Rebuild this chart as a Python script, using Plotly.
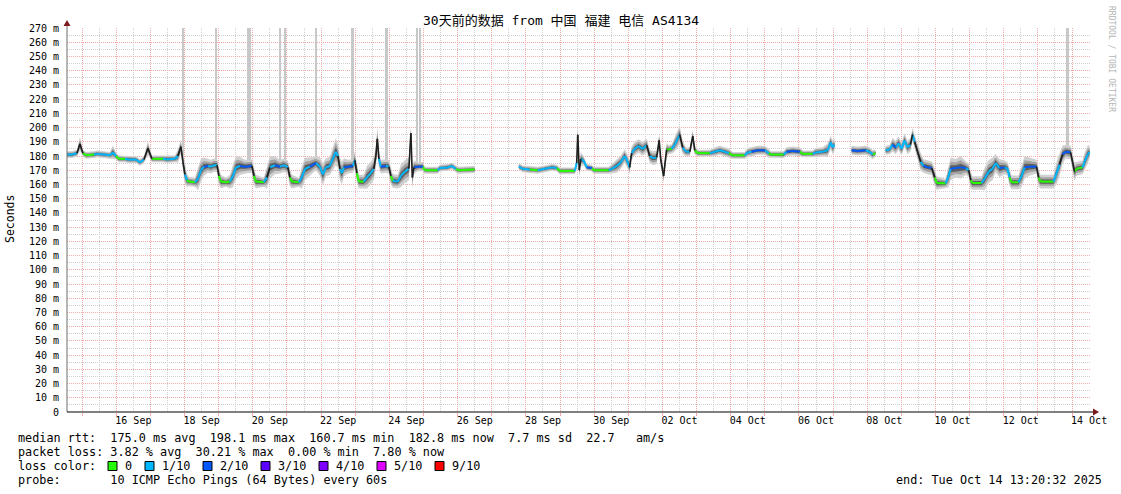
import plotly.graph_objects as go
import pandas as pd

# ---------------- data ----------------
T_START = pd.Timestamp("2025-09-14 13:20:32")
T_END = pd.Timestamp("2025-10-14 13:20:32")

# hours since T_START; None in median_ms marks a gap in the data
hours = [
    0.0, 3.5, 7.0, 9.1, 11.2, 13.4, 19.0, 21.1, 26.0, 30.2, 32.3, 34.4, 36.5, 40.8, 42.9, 48.5,
    51.3, 54.1, 56.9, 59.7, 64.0, 67.5, 70.3, 75.9, 78.0, 80.1, 81.5, 82.9, 84.3, 85.7, 90.0,
    92.1, 94.2, 96.3, 99.1, 101.2, 103.3, 105.5, 106.8, 108.2, 111.7, 114.6, 116.7, 118.8,
    121.6, 125.1, 130.0, 131.4, 132.8, 138.4, 140.6, 142.7, 146.2, 149.7, 152.5, 155.3, 156.7,
    158.1, 163.1, 165.1, 167.3, 170.8, 175.0, 177.8, 179.9, 182.0, 184.8, 186.9, 189.0, 190.5,
    191.9, 193.3, 194.7, 197.5, 201.0, 202.4, 203.8, 205.2, 208.7, 210.8, 213.6, 215.7, 217.2,
    218.2, 219.3, 220.7, 224.2, 226.3, 227.7, 229.1, 232.6, 234.7, 237.5, 240.4, 241.8, 242.8,
    243.9, 246.7, 250.2, 251.6, 260.7, 262.1, 267.8, 270.6, 273.4, 274.8, 286.7,
    300.0,
    317.7, 320.5, 325.4, 331.0, 335.9, 340.9, 344.4, 346.5, 357.0, 358.4, 359.1, 360.2, 361.3,
    363.4, 365.5, 369.0, 370.4, 380.9, 383.0, 386.6, 389.3, 392.1, 394.2, 395.6, 397.0, 399.1,
    401.9, 404.7, 407.6, 409.7, 411.8, 414.6, 416.4, 417.4, 419.5, 421.6, 423.0, 425.2, 427.3,
    429.4, 430.8, 432.9, 435.1, 437.9, 440.0, 441.4, 443.5, 452.0, 455.5, 459.0, 462.5, 465.3,
    468.1, 476.5, 478.6, 481.4, 485.6, 490.6, 493.4, 494.8, 503.9, 506.0, 510.3, 515.2, 517.3,
    524.3, 526.4, 531.3, 534.8, 537.0, 538.4, 539.6,
    545.0,
    551.7, 555.9, 561.5, 564.3, 566.4, 568.5,
    572.0,
    575.6, 578.4, 580.5, 582.6, 584.7, 586.8, 588.9, 591.0, 593.1, 594.5, 596.0, 598.1, 600.2,
    602.3, 605.1, 608.0, 610.1, 611.5, 617.8, 619.9, 621.3, 624.9, 628.4, 631.9, 634.0, 635.4,
    636.7, 643.1, 645.2, 648.0, 650.8, 652.9, 655.7, 659.2, 661.3, 662.7, 664.1, 669.0, 671.2,
    673.3, 676.8, 681.7, 683.1, 684.5, 693.6, 695.8, 697.9, 700.0, 702.1, 705.6, 707.0, 708.4,
    709.8, 714.1, 715.5, 717.6, 719.0,
]

median_ms = [
    181, 181, 182, 188.5, 182, 180.5, 181, 181.5, 181, 180.5, 182.5, 180, 178, 178, 177.5, 177.5,
    175.5, 177.5, 185.5, 178, 178, 178, 177.5, 178, 180, 186.5, 176, 167, 163, 162, 161.5,
    164, 170, 172.5, 173, 172.5, 173.5, 173.5, 166, 162, 161.5, 162, 166, 172,
    173, 172.5, 173, 166, 162, 161.5, 165, 172, 173.5, 172.5, 173.5, 172, 165,
    162, 161.5, 165, 171, 172.5, 175, 172.5, 167, 172, 173, 178, 183, 180,
    171, 168, 172, 172.5, 173, 177, 168, 162, 162, 165, 168, 171, 180,
    192, 178, 172.5, 173, 172.5, 166, 162.5, 162, 166, 169, 171, 196, 165,
    172, 172.5, 172.5, 170, 170, 171.5, 172, 173, 171, 170, 170.5,
    None,
    172.5, 171, 170.5, 170, 171, 172, 171.5, 169.5, 169.5, 175, 195, 170, 178,
    176.5, 172, 171.5, 170, 170, 171, 173, 175.5, 180, 176, 172, 182, 185,
    187, 185, 187.5, 180, 178.5, 179, 191, 178, 166, 184.5, 184.5, 185, 188,
    192, 195, 186, 183, 183, 194, 184, 182, 182, 183, 184, 183, 182,
    180.5, 180.5, 182.5, 183, 184, 184, 182, 181, 181, 183, 183.5, 183, 181.5,
    181.5, 182.5, 183, 184, 189.5, 186, 188,
    None,
    184, 183.5, 184, 183, 181, 182,
    None,
    184, 184.5, 188, 186, 189, 185, 191, 186, 188, 195, 190, 183, 176,
    173, 172, 171.5, 165, 161, 160.7, 166, 171, 171.5, 172, 171.5, 170, 163,
    161, 161, 164, 169, 171, 175, 171.5, 172, 171, 165, 161.5, 161.5, 166,
    172, 172.5, 172.5, 165, 162, 162, 168, 174, 181, 183, 182.5, 176, 169,
    171, 172, 176, 181, 182.8,
]

# loss level (number of lost pings out of 10) for each sample
loss_level = [
    1, 1, 1, 1, 1, 0, 0, 1, 1, 1, 1, 1, 0, 0, 1, 1,
    1, 1, 1, 1, 0, 0, 1, 1, 1, 1, 1, 1, 1, 0, 0,
    1, 1, 1, 2, 1, 1, 1, 1, 0, 0, 0, 1, 1,
    1, 2, 2, 1, 0, 0, 1, 1, 1, 2, 1, 1, 1,
    0, 0, 1, 1, 1, 2, 1, 1, 1, 1, 1, 1, 1,
    1, 1, 1, 2, 2, 1, 1, 0, 0, 1, 1, 1, 1,
    1, 1, 1, 2, 1, 1, 0, 1, 1, 1, 1, 2, 1,
    1, 2, 2, 0, 0, 1, 1, 1, 1, 0, 0,
    None,
    1, 1, 1, 0, 1, 1, 1, 0, 0, 1, 1, 1, 1,
    1, 1, 2, 0, 0, 1, 1, 1, 1, 1, 1, 1, 1,
    1, 1, 1, 1, 1, 1, 1, 1, 1, 1, 0, 0, 1,
    1, 1, 1, 1, 1, 1, 1, 0, 0, 1, 1, 1, 1,
    0, 0, 1, 1, 2, 2, 1, 0, 0, 1, 2, 2, 0,
    0, 1, 1, 1, 1, 1, 1,
    None,
    1, 2, 2, 1, 1, 0,
    None,
    1, 1, 1, 2, 1, 1, 1, 1, 1, 1, 1, 1, 1,
    1, 2, 2, 1, 0, 0, 1, 1, 2, 2, 2, 1, 1,
    0, 0, 1, 1, 1, 1, 1, 2, 1, 1, 0, 0, 1,
    1, 2, 2, 1, 0, 0, 1, 1, 1, 2, 2, 1, 1,
    0, 0, 1, 1, 1,
]

# half-width of the ping "smoke" around the median, ms
smoke_ms = [
    1.5, 1.5, 1.5, 3, 1.5, 1.5, 1.5, 1.5, 1.5, 1.5, 3, 1.5, 1.5, 1.5, 1.5, 1.5,
    1.5, 1.5, 3, 1.5, 1.5, 1.5, 1.5, 1.5, 3, 3, 4, 4, 3, 2, 2,
    5, 5, 4, 3, 3, 3, 3, 4, 3, 2, 3, 5, 5,
    4, 3, 3, 4, 3, 2, 5, 5, 4, 3, 3, 3, 4,
    3, 2, 5, 5, 4, 3, 4, 5, 4, 4, 5, 6, 5,
    5, 5, 4, 3, 3, 4, 4, 3, 3, 5, 5, 5, 5,
    5, 4, 3, 3, 3, 4, 3, 3, 5, 5, 5, 3, 5,
    3, 2, 2, 1.5, 1.5, 1.5, 1.5, 1.5, 1.5, 1.5, 1.5,
    None,
    1.5, 1.5, 1.5, 1.5, 1.5, 1.5, 1.5, 1.5, 1.5, 3, 3, 3, 3,
    2, 1.5, 1.5, 1.5, 1.5, 2, 3, 3, 3, 3, 3, 3, 3,
    3, 3, 3, 3, 3, 3, 3, 3, 3, 3, 2, 2, 3,
    4, 4, 3, 2, 2, 3, 2, 1.5, 1.5, 2, 2, 2, 2,
    1.5, 1.5, 2, 2, 2, 2, 2, 1.5, 1.5, 2, 2, 2, 1.5,
    1.5, 2, 2, 3, 3, 3, 3,
    None,
    2, 2, 2, 2, 2, 1.5,
    None,
    2, 2, 3, 3, 3, 3, 3, 3, 3, 3, 3, 3, 4,
    3, 3, 3, 4, 3, 2, 5, 5, 4, 5, 3, 3, 4,
    3, 3, 5, 5, 5, 4, 4, 3, 3, 4, 3, 3, 5,
    5, 4, 3, 4, 3, 3, 5, 5, 4, 3, 3, 4, 4,
    3, 3, 4, 4, 3,
]

# single very slow pings that push the smoke above the top of the graph
outlier_hours = [81.5, 105.1, 128.3, 149.7, 153.2, 175.0, 200.6, 224.5, 246.0, 248.1, 703.8]
outlier_base_ms = [176, 173.5, 173, 172.5, 173, 175, 173, 173, 172, 172.5, 183]
outlier_span_h = [0.8, 0.8, 2.8, 0.8, 0.8, 0.8, 2.1, 2.1, 0.8, 0.8, 2.1]

loss_labels = ["0", "1/10", "2/10", "3/10", "4/10", "5/10", "9/10"]
loss_colors = ["#26ff00", "#00b8ff", "#0059ff", "#5e00ff", "#7e00ff", "#dd00ff", "#ff0000"]

label_days = ["2025-09-16", "2025-09-18", "2025-09-20", "2025-09-22", "2025-09-24",
              "2025-09-26", "2025-09-28", "2025-09-30", "2025-10-02", "2025-10-04",
              "2025-10-06", "2025-10-08", "2025-10-10", "2025-10-12", "2025-10-14"]

y_ticks = list(range(0, 271, 10))
y_ticktext = ["0"] + [f"{v} m" for v in y_ticks[1:]]

title_text = "30天前的数据 from 中国 福建 电信 AS4134"
legend_rows = [
    "median rtt:  175.0 ms avg  198.1 ms max  160.7 ms min  182.8 ms now  7.7 ms sd  22.7   am/s",
    "packet loss: 3.82 % avg  30.21 % max  0.00 % min  7.80 % now",
    "loss color:",
    "probe:       10 ICMP Echo Pings (64 Bytes) every 60s",
]
end_text = "end: Tue Oct 14 13:20:32 2025"

# ---------------- geometry helpers ----------------
W, H = 1121, 494
L, R, T, B = 67, 30, 28, 82
PW, PH = W - L - R, H - T - B


def px(x):
    return (x - L) / PW


def py(y):
    return (T + PH - y) / PH


FONT = "DejaVu Sans Mono, Noto Sans CJK SC, monospace"
LEG_SIZE = 11.8


def nb(s):
    return s.replace(" ", "\u00a0")


times = [T_START + pd.Timedelta(hours=h) for h in hours]

# split into contiguous segments
segments = []
cur = []
for i, m in enumerate(median_ms):
    if m is None:
        if cur:
            segments.append(cur)
        cur = []
    else:
        cur.append(i)
if cur:
    segments.append(cur)

fig = go.Figure()

# outlier smoke columns reaching the top of the graph
fig.add_trace(go.Bar(
    x=[T_START + pd.Timedelta(hours=h) for h in outlier_hours],
    base=outlier_base_ms,
    y=[270 - b for b in outlier_base_ms],
    width=[w * 3600 * 1000 for w in outlier_span_h],
    marker=dict(color="#c8c8c8", line=dict(width=0)),
    hoverinfo="skip", showlegend=False,
))

# smoke layers
for factor, color in [(1.6, "#d0d0d0"), (1.0, "#a2a2a2"), (0.5, "#5e5e5e")]:
    xs, ys = [], []
    for seg in segments:
        st = [times[i] for i in seg]
        hi = [median_ms[i] + factor * smoke_ms[i] for i in seg]
        lo = [median_ms[i] - factor * smoke_ms[i] for i in seg]
        xs += st + st[::-1] + [st[0], None]
        ys += hi + lo[::-1] + [hi[0], None]
    fig.add_trace(go.Scatter(
        x=xs, y=ys, mode="lines", fill="toself", fillcolor=color,
        line=dict(width=0, color=color), hoverinfo="skip", showlegend=False,
    ))

# median line coloured by packet loss; steep jumps show as dark smoke edges
STEEP = 6
xs_dark, ys_dark = [], []
for lvl in sorted(set(v for v in loss_level if v is not None)):
    xs, ys = [], []
    for seg in segments:
        for a, b in zip(seg[:-1], seg[1:]):
            if abs(median_ms[b] - median_ms[a]) > STEEP:
                continue
            if loss_level[b] == lvl:
                xs += [times[a], times[b], None]
                ys += [median_ms[a], median_ms[b], None]
    fig.add_trace(go.Scatter(
        x=xs, y=ys, mode="lines", line=dict(color=loss_colors[lvl], width=2),
        hoverinfo="skip", showlegend=False,
    ))
for seg in segments:
    for a, b in zip(seg[:-1], seg[1:]):
        if abs(median_ms[b] - median_ms[a]) > STEEP:
            xs_dark += [times[a], times[b], None]
            ys_dark += [median_ms[a], median_ms[b], None]
fig.add_trace(go.Scatter(
    x=xs_dark, y=ys_dark, mode="lines", line=dict(color="#1e1e1e", width=1.6),
    hoverinfo="skip", showlegend=False,
))

# invisible trace carrying the date-label axis
fig.add_trace(go.Scatter(x=[T_START, T_END], y=[0, 0], xaxis="x2", mode="markers",
                         marker=dict(opacity=0), hoverinfo="skip", showlegend=False))

midnights = list(pd.date_range("2025-09-15", "2025-10-14", freq="D"))
noons = [d + pd.Timedelta(hours=12) for d in pd.date_range("2025-09-14", "2025-10-13", freq="D")]
label_pos = [pd.Timestamp(d) + pd.Timedelta(hours=12) for d in label_days]
label_txt = [pd.Timestamp(d).strftime("%d %b") for d in label_days]

RED = "#f5aaaa"
GREY = "#cfcfcf"
DASH = "1px,1px"

fig.update_layout(
    width=W, height=H,
    margin=dict(l=L, r=R, t=T, b=B, pad=0),
    paper_bgcolor="white", plot_bgcolor="white",
    font=dict(family=FONT, size=10, color="black"),
    bargap=0,
    xaxis=dict(
        type="date", range=[T_START, T_END], fixedrange=True,
        tickmode="array", tickvals=midnights, ticktext=[""] * len(midnights),
        showgrid=True, gridcolor=RED, griddash=DASH, gridwidth=1,
        ticks="outside", ticklen=3, tickcolor=RED, tickwidth=1,
        minor=dict(tickmode="array", tickvals=noons, showgrid=True,
                   gridcolor=GREY, griddash=DASH, gridwidth=1, ticks=""),
        showline=False, zeroline=False,
    ),
    xaxis2=dict(
        type="date", range=[T_START, T_END], overlaying="x", anchor="y", side="bottom",
        fixedrange=True, tickmode="array", tickvals=label_pos, ticktext=label_txt,
        showgrid=False, ticks="", showline=False, zeroline=False,
        tickfont=dict(family=FONT, size=10, color="black"),
        ticklabelstandoff=1,
    ),
    yaxis=dict(
        range=[0, 270], fixedrange=True,
        tickmode="array", tickvals=y_ticks, ticktext=y_ticktext,
        showgrid=True, gridcolor=RED, griddash=DASH, gridwidth=1,
        minor=dict(tickmode="array", tickvals=list(range(5, 270, 10)), showgrid=True,
                   gridcolor=GREY, griddash=DASH, gridwidth=1, ticks=""),
        ticks="", showline=False, zeroline=False,
        tickfont=dict(family=FONT, size=10, color="black"),
        ticklabelstandoff=7,
    ),
)

shapes = [
    # y axis line and arrow
    dict(type="line", xref="paper", yref="paper", x0=0, x1=0, y0=0, y1=py(24),
         line=dict(color="#6e6e6e", width=1)),
    dict(type="path", xref="paper", yref="paper",
         path=f"M {px(63.5)},{py(26)} L {px(70.5)},{py(26)} L {px(67)},{py(20)} Z",
         fillcolor="#7a1a1a", line=dict(width=0)),
    # x axis line and arrow
    dict(type="line", xref="paper", yref="paper", x0=0, x1=px(1094), y0=0, y1=0,
         line=dict(color="black", width=1)),
    dict(type="path", xref="paper", yref="paper",
         path=f"M {px(1093)},{py(408.5)} L {px(1093)},{py(415.5)} L {px(1099)},{py(412)} Z",
         fillcolor="#7a1a1a", line=dict(width=0)),
]

annotations = [
    dict(text=title_text, xref="paper", yref="paper", x=px(560.5), y=py(21),
         xanchor="center", yanchor="middle", showarrow=False,
         font=dict(family=FONT, size=13, color="black")),
    dict(text="Seconds", xref="paper", yref="paper", x=px(10), y=py(219), textangle=-90,
         xanchor="center", yanchor="middle", showarrow=False,
         font=dict(family=FONT, size=11.5, color="black")),
    dict(text="RRDTOOL / TOBI OETIKER", xref="paper", yref="paper", x=px(1111), y=py(59),
         textangle=90, xanchor="center", yanchor="middle", showarrow=False,
         font=dict(family=FONT, size=8, color="#b5b5b5")),
    dict(text=nb(end_text), xref="paper", yref="paper", x=px(1104), y=py(480),
         xanchor="right", yanchor="middle", showarrow=False,
         font=dict(family=FONT, size=LEG_SIZE, color="black")),
]
for row, yy in zip(legend_rows, [438, 452, 466, 480]):
    annotations.append(dict(text=nb(row), xref="paper", yref="paper", x=px(16), y=py(yy),
                            xanchor="left", yanchor="middle", showarrow=False,
                            font=dict(family=FONT, size=LEG_SIZE, color="black")))

# loss colour keys
cx = 108
for lab, col in zip(loss_labels, loss_colors):
    shapes.append(dict(type="rect", xref="paper", yref="paper",
                       x0=px(cx), x1=px(cx + 9), y0=py(470.5), y1=py(461.5),
                       fillcolor=col, line=dict(color="black", width=1)))
    annotations.append(dict(text=nb(lab), xref="paper", yref="paper", x=px(cx + 15), y=py(466),
                            xanchor="left", yanchor="middle", showarrow=False,
                            font=dict(family=FONT, size=LEG_SIZE, color="black")))
    cx += 15 + 7 * len(lab) + 15

fig.update_layout(shapes=shapes, annotations=annotations)

fig.write_html("out.html", config={"displayModeBar": False},
               post_script="document.body.style.margin='0';document.body.style.padding='0';")
